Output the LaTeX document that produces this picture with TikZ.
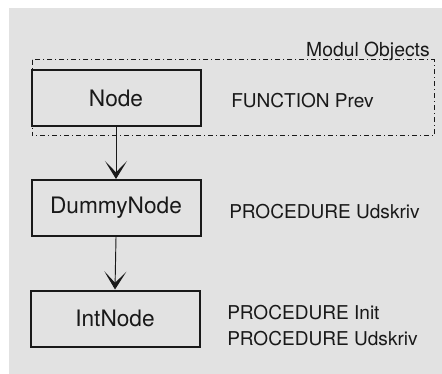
\documentclass[tikz,border=0pt]{standalone}
\usepackage{fontspec}
\setmainfont{TeX Gyre Heros}
\usetikzlibrary{arrows.meta}
\definecolor{paper}{RGB}{226,226,226}
\definecolor{ink}{RGB}{25,25,25}
\tikzset{
  classbox/.style={draw=ink, line width=1.5pt, minimum width=126.75pt, minimum height=42pt,
    inner sep=0pt, font=\fontsize{17}{20}\selectfont, text=ink},
  method/.style={anchor=west, inner sep=0pt, align=left, text=ink,
    font=\fontsize{14.3}{19.5}\selectfont},
  inherit/.style={draw=ink, line width=0.7pt,
    -{Stealth[length=13.5pt, width=16.5pt, inset=8.5pt]}},
  modulebox/.style={draw=ink, line width=0.75pt, dash pattern=on 4pt off 2pt on 1pt off 2pt}
}
\begin{document}
\begin{tikzpicture}[x=0.75pt, y=-0.75pt]
  \useasboundingbox (0,0) rectangle (442,374);
  \fill[paper] (9,8) rectangle (442,374);

  % module boundary around Node
  \draw[modulebox] (32,60) rectangle (434,136);
  \node[anchor=base east, inner sep=0pt, text=ink, font=\fontsize{14.5}{17}\selectfont]
    (modlabel) at (430,57) {Modul Objects};

  % class hierarchy
  \node[classbox] (node)  at (116,98)  {Node};
  \node[classbox] (dummy) at (116,208) {DummyNode};
  \node[classbox] (int)   at (115,318.5) {IntNode};

  \draw[inherit] (node.south) -- (dummy.north);
  \draw[inherit] (dummy.south) -- (int.north);

  % operations of each class
  \node[method] (mprev)  at (231,101) {FUNCTION Prev};
  \node[method] (mudsk)  at (229,212) {PROCEDURE Udskriv};
  \node[method] (mint)   at (227,326) {PROCEDURE Init\\PROCEDURE Udskriv};
\end{tikzpicture}
\end{document}
